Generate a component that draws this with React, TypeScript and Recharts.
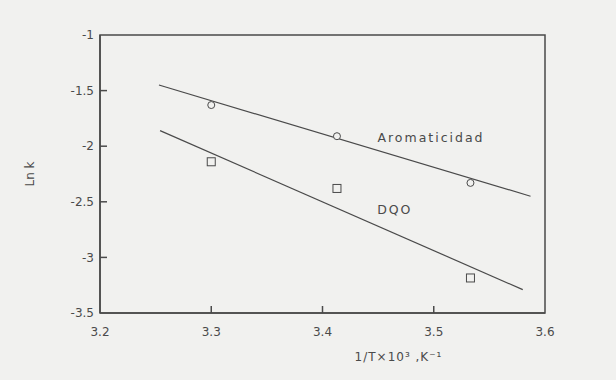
import {
  ComposedChart,
  Line,
  Scatter,
  XAxis,
  YAxis,
  ReferenceArea,
  ReferenceDot,
  ReferenceLine,
  Label,
} from "recharts";

// Ln k vs 1/T*10^3
const tempX = [3.3, 3.413, 3.533];
const aromY = [-1.63, -1.91, -2.33];
const dqoY = [-2.14, -2.38, -3.185];

// fitted lines (endpoints)
const aromFitX = [3.253, 3.587];
const aromFitY = [-1.45, -2.45];
const dqoFitX = [3.254, 3.58];
const dqoFitY = [-1.86, -3.29];

const xTicks = [3.2, 3.3, 3.4, 3.5, 3.6];
const yTicks = [-1, -1.5, -2, -2.5, -3, -3.5];

const ink = "#4a4a4a";
const bg = "#f1f1ef";
const font = "DejaVu Sans";

const aromPts = tempX.map((x, i) => ({ x, y: aromY[i] }));
const dqoPts = tempX.map((x, i) => ({ x, y: dqoY[i] }));
const aromFit = aromFitX.map((x, i) => ({ x, y: aromFitY[i] }));
const dqoFit = dqoFitX.map((x, i) => ({ x, y: dqoFitY[i] }));

const circle = (p: any) => (
  <circle cx={p.cx} cy={p.cy} r={3.5} fill={bg} stroke={ink} strokeWidth={1} />
);
const square = (p: any) => (
  <rect x={p.cx - 4} y={p.cy - 4} width={8} height={8} fill={bg} stroke={ink} strokeWidth={1} />
);

// inward tick marks, lengths in data units (~7px)
const xTickLen = 0.063;
const yTickLen = 0.0063;

const tickStyle = { fill: ink, fontSize: 12, fontFamily: font };
const textStyle = { fill: ink, fontSize: 12.5, fontFamily: font, letterSpacing: 2 };

export default function App() {
  return (
    <div
      style={{
        position: "absolute",
        left: 0,
        top: 0,
        width: 616,
        height: 380,
        background: bg,
      }}
    >
      <ComposedChart
        width={616}
        height={380}
        margin={{ top: 35, right: 71, left: 40, bottom: 37 }}
      >
        <XAxis
          dataKey="x"
          type="number"
          domain={[3.2, 3.6]}
          ticks={xTicks}
          tickFormatter={(v: number) => v.toFixed(1)}
          height={30}
          stroke={ink}
          strokeWidth={1.5}
          tickLine={false}
          tickSize={0}
          tickMargin={14}
          tick={tickStyle}
        >
          <Label
            value="1/T×10³ ,K⁻¹"
            position="bottom"
            offset={9}
            dx={76}
            style={{ fill: ink, fontSize: 12, fontFamily: font, letterSpacing: 1 }}
          />
        </XAxis>
        <YAxis
          dataKey="y"
          type="number"
          domain={[-3.5, -1]}
          ticks={yTicks}
          width={60}
          stroke={ink}
          strokeWidth={1.5}
          tickLine={false}
          tickSize={0}
          tickMargin={6}
          tick={tickStyle}
        >
          <Label
            value="Ln k"
            angle={-90}
            position="insideLeft"
            offset={-10}
            style={{ fill: ink, fontSize: 12, fontFamily: font, textAnchor: "middle" }}
          />
        </YAxis>
        <ReferenceArea
          x1={3.2}
          x2={3.6}
          y1={-3.5}
          y2={-1}
          fill="none"
          stroke={ink}
          strokeWidth={1.5}
        />
        {xTicks.slice(1, -1).map((v) => (
          <ReferenceLine
            key={"xt" + v}
            segment={[
              { x: v, y: -3.5 },
              { x: v, y: -3.5 + xTickLen },
            ]}
            ifOverflow="visible"
            stroke={ink}
            strokeWidth={1.5}
          />
        ))}
        {yTicks.slice(1, -1).map((v) => (
          <ReferenceLine
            key={"yt" + v}
            segment={[
              { x: 3.2, y: v },
              { x: 3.2 + yTickLen, y: v },
            ]}
            ifOverflow="visible"
            stroke={ink}
            strokeWidth={1.5}
          />
        ))}
        <Line
          data={aromFit}
          dataKey="y"
          stroke={ink}
          strokeWidth={1.2}
          dot={false}
          isAnimationActive={false}
        />
        <Line
          data={dqoFit}
          dataKey="y"
          stroke={ink}
          strokeWidth={1.2}
          dot={false}
          isAnimationActive={false}
        />
        <Scatter data={aromPts} shape={circle} isAnimationActive={false} />
        <Scatter data={dqoPts} shape={square} isAnimationActive={false} />
        <ReferenceDot x={3.4975} y={-1.92} r={0} fill="none" stroke="none">
          <Label value="Aromaticidad" position="center" style={textStyle} />
        </ReferenceDot>
        <ReferenceDot x={3.465} y={-2.574} r={0} fill="none" stroke="none">
          <Label value="DQO" position="center" style={textStyle} />
        </ReferenceDot>
      </ComposedChart>
    </div>
  );
}
